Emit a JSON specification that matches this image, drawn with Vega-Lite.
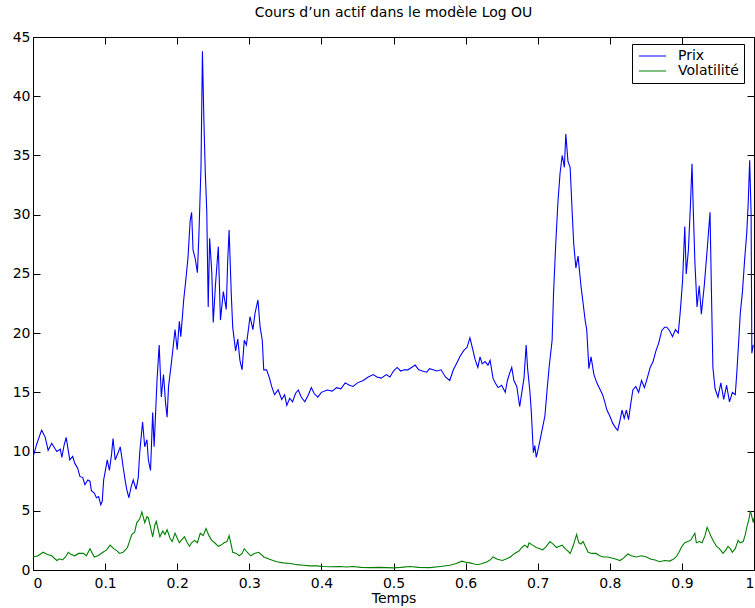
{
  "$schema": "https://vega.github.io/schema/vega-lite/v6.json",
  "width": 721,
  "height": 533,
  "autosize": {"type": "none"},
  "padding": {"left": 33, "top": 37, "right": 1, "bottom": 38},
  "background": "white",
  "title": {"text": "Cours d’un actif dans le modèle Log OU", "font": "DejaVu Sans", "fontSize": 14, "fontWeight": "normal", "color": "black", "anchor": "middle", "offset": 10},
  "datasets": {
    "prix": [
      {"t":0,"v":9.5},{"t":0.005,"v":10.6},{"t":0.009,"v":11.3},{"t":0.012,"v":11.8},{"t":0.017,"v":11.2},{"t":0.021,"v":10.1},{"t":0.026,"v":10.7},{"t":0.03,"v":10.3},{"t":0.033,"v":10.0},{"t":0.038,"v":10.2},{"t":0.04,"v":9.5},{"t":0.043,"v":10.5},{"t":0.046,"v":11.2},{"t":0.051,"v":9.3},{"t":0.055,"v":9.6},{"t":0.058,"v":9.0},{"t":0.062,"v":8.6},{"t":0.065,"v":7.9},{"t":0.069,"v":7.8},{"t":0.072,"v":7.2},{"t":0.076,"v":7.6},{"t":0.079,"v":7.5},{"t":0.081,"v":6.7},{"t":0.085,"v":6.5},{"t":0.088,"v":6.1},{"t":0.091,"v":6.2},{"t":0.094,"v":5.5},{"t":0.096,"v":5.8},{"t":0.098,"v":7.6},{"t":0.101,"v":8.6},{"t":0.103,"v":9.3},{"t":0.106,"v":8.4},{"t":0.109,"v":9.8},{"t":0.111,"v":11.1},{"t":0.114,"v":9.3},{"t":0.118,"v":9.9},{"t":0.121,"v":10.4},{"t":0.123,"v":9.6},{"t":0.125,"v":8.7},{"t":0.128,"v":7.5},{"t":0.13,"v":6.8},{"t":0.133,"v":6.1},{"t":0.136,"v":7.0},{"t":0.139,"v":7.6},{"t":0.143,"v":6.8},{"t":0.146,"v":7.8},{"t":0.148,"v":9.9},{"t":0.152,"v":12.5},{"t":0.155,"v":10.4},{"t":0.158,"v":11.0},{"t":0.16,"v":9.3},{"t":0.163,"v":8.4},{"t":0.166,"v":13.3},{"t":0.168,"v":10.4},{"t":0.172,"v":16.0},{"t":0.175,"v":19.0},{"t":0.178,"v":14.6},{"t":0.181,"v":16.5},{"t":0.184,"v":14.0},{"t":0.186,"v":12.9},{"t":0.188,"v":15.5},{"t":0.191,"v":17.0},{"t":0.194,"v":18.6},{"t":0.197,"v":20.3},{"t":0.2,"v":18.6},{"t":0.203,"v":21.0},{"t":0.205,"v":19.7},{"t":0.209,"v":22.8},{"t":0.212,"v":24.5},{"t":0.215,"v":26.4},{"t":0.218,"v":29.5},{"t":0.22,"v":30.2},{"t":0.222,"v":27.0},{"t":0.225,"v":26.3},{"t":0.228,"v":25.1},{"t":0.23,"v":28.1},{"t":0.233,"v":34.0},{"t":0.235,"v":43.8},{"t":0.237,"v":38.0},{"t":0.239,"v":33.5},{"t":0.241,"v":30.3},{"t":0.243,"v":22.2},{"t":0.245,"v":28.0},{"t":0.248,"v":25.1},{"t":0.25,"v":20.9},{"t":0.253,"v":24.0},{"t":0.257,"v":27.3},{"t":0.26,"v":21.1},{"t":0.264,"v":23.5},{"t":0.268,"v":22.0},{"t":0.27,"v":26.0},{"t":0.272,"v":28.7},{"t":0.275,"v":23.3},{"t":0.277,"v":20.5},{"t":0.281,"v":18.5},{"t":0.284,"v":19.5},{"t":0.287,"v":17.7},{"t":0.29,"v":16.9},{"t":0.293,"v":19.4},{"t":0.296,"v":19.0},{"t":0.301,"v":21.4},{"t":0.305,"v":20.3},{"t":0.308,"v":21.7},{"t":0.312,"v":22.8},{"t":0.315,"v":20.5},{"t":0.318,"v":19.4},{"t":0.32,"v":16.9},{"t":0.324,"v":16.9},{"t":0.328,"v":16.2},{"t":0.331,"v":15.5},{"t":0.335,"v":14.8},{"t":0.34,"v":15.2},{"t":0.345,"v":14.4},{"t":0.349,"v":14.8},{"t":0.352,"v":13.9},{"t":0.356,"v":14.5},{"t":0.36,"v":14.2},{"t":0.364,"v":14.9},{"t":0.368,"v":15.2},{"t":0.372,"v":14.6},{"t":0.377,"v":14.2},{"t":0.382,"v":14.8},{"t":0.386,"v":15.4},{"t":0.39,"v":14.9},{"t":0.395,"v":14.6},{"t":0.4,"v":15.0},{"t":0.408,"v":15.2},{"t":0.415,"v":15.1},{"t":0.421,"v":15.4},{"t":0.427,"v":15.3},{"t":0.433,"v":15.8},{"t":0.439,"v":15.6},{"t":0.444,"v":15.5},{"t":0.45,"v":15.8},{"t":0.458,"v":16.0},{"t":0.465,"v":16.3},{"t":0.472,"v":16.5},{"t":0.477,"v":16.3},{"t":0.483,"v":16.2},{"t":0.49,"v":16.5},{"t":0.495,"v":16.3},{"t":0.5,"v":16.8},{"t":0.505,"v":17.1},{"t":0.51,"v":16.8},{"t":0.515,"v":16.9},{"t":0.52,"v":16.9},{"t":0.525,"v":17.1},{"t":0.53,"v":17.3},{"t":0.535,"v":16.9},{"t":0.54,"v":16.8},{"t":0.546,"v":16.7},{"t":0.55,"v":17.0},{"t":0.555,"v":16.9},{"t":0.56,"v":16.8},{"t":0.566,"v":16.9},{"t":0.572,"v":16.3},{"t":0.578,"v":16.0},{"t":0.583,"v":16.9},{"t":0.588,"v":17.5},{"t":0.592,"v":18.0},{"t":0.597,"v":18.5},{"t":0.602,"v":18.8},{"t":0.606,"v":19.6},{"t":0.61,"v":18.6},{"t":0.613,"v":17.8},{"t":0.617,"v":17.1},{"t":0.62,"v":18.0},{"t":0.623,"v":17.4},{"t":0.627,"v":17.6},{"t":0.631,"v":17.3},{"t":0.634,"v":17.7},{"t":0.638,"v":16.2},{"t":0.641,"v":15.8},{"t":0.645,"v":15.4},{"t":0.65,"v":15.6},{"t":0.655,"v":15.0},{"t":0.658,"v":16.0},{"t":0.661,"v":16.6},{"t":0.664,"v":17.1},{"t":0.667,"v":16.0},{"t":0.671,"v":15.5},{"t":0.675,"v":13.8},{"t":0.678,"v":15.0},{"t":0.681,"v":16.2},{"t":0.684,"v":19.0},{"t":0.686,"v":17.0},{"t":0.689,"v":15.2},{"t":0.691,"v":13.5},{"t":0.694,"v":9.9},{"t":0.696,"v":10.5},{"t":0.698,"v":9.5},{"t":0.701,"v":10.3},{"t":0.704,"v":11.2},{"t":0.707,"v":12.1},{"t":0.71,"v":13.0},{"t":0.713,"v":15.2},{"t":0.716,"v":17.2},{"t":0.72,"v":19.4},{"t":0.722,"v":23.4},{"t":0.725,"v":27.5},{"t":0.728,"v":31.0},{"t":0.731,"v":33.5},{"t":0.734,"v":35.0},{"t":0.737,"v":34.0},{"t":0.739,"v":36.8},{"t":0.742,"v":34.5},{"t":0.745,"v":34.0},{"t":0.748,"v":30.0},{"t":0.75,"v":27.5},{"t":0.753,"v":25.5},{"t":0.756,"v":26.5},{"t":0.76,"v":24.0},{"t":0.763,"v":22.5},{"t":0.766,"v":21.0},{"t":0.768,"v":20.3},{"t":0.771,"v":17.0},{"t":0.774,"v":18.0},{"t":0.778,"v":16.5},{"t":0.782,"v":15.8},{"t":0.786,"v":15.3},{"t":0.79,"v":14.8},{"t":0.793,"v":14.2},{"t":0.796,"v":13.5},{"t":0.8,"v":13.0},{"t":0.804,"v":12.4},{"t":0.808,"v":12.0},{"t":0.811,"v":11.8},{"t":0.814,"v":12.6},{"t":0.817,"v":13.5},{"t":0.82,"v":12.8},{"t":0.823,"v":13.5},{"t":0.826,"v":12.7},{"t":0.829,"v":14.0},{"t":0.832,"v":15.2},{"t":0.836,"v":15.5},{"t":0.84,"v":15.0},{"t":0.844,"v":16.0},{"t":0.848,"v":15.4},{"t":0.852,"v":16.2},{"t":0.856,"v":17.1},{"t":0.86,"v":17.6},{"t":0.864,"v":18.5},{"t":0.868,"v":19.2},{"t":0.872,"v":20.2},{"t":0.876,"v":20.5},{"t":0.879,"v":20.5},{"t":0.883,"v":20.2},{"t":0.887,"v":19.7},{"t":0.891,"v":20.3},{"t":0.895,"v":20.0},{"t":0.898,"v":22.0},{"t":0.901,"v":24.5},{"t":0.904,"v":29.0},{"t":0.906,"v":25.0},{"t":0.909,"v":27.0},{"t":0.912,"v":31.0},{"t":0.914,"v":34.3},{"t":0.916,"v":30.0},{"t":0.918,"v":26.0},{"t":0.921,"v":22.2},{"t":0.924,"v":24.0},{"t":0.927,"v":21.6},{"t":0.931,"v":24.0},{"t":0.935,"v":27.0},{"t":0.939,"v":30.2},{"t":0.941,"v":23.4},{"t":0.943,"v":17.1},{"t":0.946,"v":15.3},{"t":0.95,"v":14.6},{"t":0.954,"v":15.8},{"t":0.958,"v":14.4},{"t":0.962,"v":15.6},{"t":0.966,"v":14.2},{"t":0.97,"v":15.0},{"t":0.974,"v":14.8},{"t":0.976,"v":16.5},{"t":0.979,"v":19.5},{"t":0.981,"v":21.7},{"t":0.984,"v":23.5},{"t":0.987,"v":26.2},{"t":0.99,"v":28.5},{"t":0.992,"v":31.0},{"t":0.994,"v":34.6},{"t":0.996,"v":30.0},{"t":0.997,"v":18.3},{"t":0.999,"v":19.0}
    ],
    "vol": [
      {"t":0,"v":1.1},{"t":0.007,"v":1.2},{"t":0.014,"v":1.5},{"t":0.02,"v":1.3},{"t":0.026,"v":1.2},{"t":0.033,"v":0.8},{"t":0.037,"v":0.95},{"t":0.041,"v":0.85},{"t":0.045,"v":1.1},{"t":0.049,"v":1.5},{"t":0.053,"v":1.3},{"t":0.058,"v":1.2},{"t":0.063,"v":1.4},{"t":0.07,"v":1.4},{"t":0.074,"v":1.2},{"t":0.079,"v":1.8},{"t":0.085,"v":1.1},{"t":0.09,"v":1.2},{"t":0.097,"v":1.5},{"t":0.102,"v":1.7},{"t":0.107,"v":2.1},{"t":0.112,"v":1.8},{"t":0.117,"v":1.6},{"t":0.12,"v":1.4},{"t":0.125,"v":1.5},{"t":0.131,"v":1.9},{"t":0.137,"v":3.0},{"t":0.141,"v":3.2},{"t":0.144,"v":4.0},{"t":0.148,"v":4.3},{"t":0.151,"v":4.9},{"t":0.155,"v":4.0},{"t":0.158,"v":4.5},{"t":0.16,"v":4.4},{"t":0.163,"v":3.6},{"t":0.166,"v":2.8},{"t":0.169,"v":3.8},{"t":0.171,"v":4.1},{"t":0.174,"v":3.3},{"t":0.176,"v":2.8},{"t":0.18,"v":3.3},{"t":0.183,"v":3.0},{"t":0.186,"v":3.4},{"t":0.19,"v":2.7},{"t":0.193,"v":2.4},{"t":0.197,"v":3.1},{"t":0.2,"v":2.7},{"t":0.203,"v":2.3},{"t":0.207,"v":2.6},{"t":0.21,"v":2.8},{"t":0.214,"v":2.3},{"t":0.217,"v":2.0},{"t":0.22,"v":2.3},{"t":0.224,"v":2.5},{"t":0.228,"v":2.3},{"t":0.232,"v":3.1},{"t":0.236,"v":2.9},{"t":0.24,"v":3.5},{"t":0.244,"v":2.9},{"t":0.248,"v":2.5},{"t":0.252,"v":2.3},{"t":0.257,"v":2.0},{"t":0.261,"v":2.1},{"t":0.265,"v":2.3},{"t":0.269,"v":2.4},{"t":0.272,"v":2.9},{"t":0.275,"v":2.1},{"t":0.277,"v":1.5},{"t":0.282,"v":1.4},{"t":0.286,"v":1.2},{"t":0.29,"v":1.4},{"t":0.293,"v":1.8},{"t":0.297,"v":1.5},{"t":0.302,"v":1.2},{"t":0.307,"v":1.4},{"t":0.313,"v":1.5},{"t":0.317,"v":1.3},{"t":0.32,"v":1.1},{"t":0.328,"v":0.9},{"t":0.338,"v":0.7},{"t":0.347,"v":0.6},{"t":0.357,"v":0.55},{"t":0.366,"v":0.45},{"t":0.375,"v":0.4},{"t":0.385,"v":0.35},{"t":0.394,"v":0.35},{"t":0.403,"v":0.3},{"t":0.412,"v":0.28},{"t":0.425,"v":0.3},{"t":0.435,"v":0.25},{"t":0.444,"v":0.3},{"t":0.455,"v":0.22},{"t":0.467,"v":0.2},{"t":0.48,"v":0.22},{"t":0.49,"v":0.2},{"t":0.5,"v":0.18},{"t":0.51,"v":0.22},{"t":0.523,"v":0.3},{"t":0.535,"v":0.22},{"t":0.55,"v":0.2},{"t":0.565,"v":0.3},{"t":0.578,"v":0.4},{"t":0.587,"v":0.55},{"t":0.595,"v":0.75},{"t":0.6,"v":0.65},{"t":0.606,"v":0.6},{"t":0.612,"v":0.5},{"t":0.616,"v":0.45},{"t":0.623,"v":0.55},{"t":0.63,"v":0.7},{"t":0.635,"v":0.9},{"t":0.638,"v":1.1},{"t":0.644,"v":0.9},{"t":0.651,"v":0.8},{"t":0.657,"v":0.95},{"t":0.662,"v":1.1},{"t":0.668,"v":1.4},{"t":0.674,"v":1.6},{"t":0.678,"v":1.9},{"t":0.682,"v":2.1},{"t":0.686,"v":1.9},{"t":0.688,"v":2.3},{"t":0.693,"v":2.1},{"t":0.698,"v":1.9},{"t":0.703,"v":1.8},{"t":0.707,"v":1.7},{"t":0.712,"v":2.0},{"t":0.717,"v":2.4},{"t":0.721,"v":2.2},{"t":0.726,"v":1.9},{"t":0.73,"v":2.0},{"t":0.734,"v":2.1},{"t":0.738,"v":1.8},{"t":0.742,"v":1.6},{"t":0.745,"v":1.4},{"t":0.749,"v":2.0},{"t":0.752,"v":2.6},{"t":0.754,"v":3.0},{"t":0.757,"v":2.3},{"t":0.76,"v":2.2},{"t":0.763,"v":2.4},{"t":0.766,"v":2.0},{"t":0.77,"v":1.5},{"t":0.775,"v":1.4},{"t":0.781,"v":1.4},{"t":0.786,"v":1.2},{"t":0.791,"v":1.1},{"t":0.797,"v":1.1},{"t":0.804,"v":1.0},{"t":0.809,"v":0.9},{"t":0.814,"v":0.8},{"t":0.819,"v":1.0},{"t":0.825,"v":1.35},{"t":0.83,"v":1.2},{"t":0.837,"v":1.1},{"t":0.844,"v":1.2},{"t":0.851,"v":1.1},{"t":0.857,"v":0.9},{"t":0.863,"v":0.85},{"t":0.869,"v":0.7},{"t":0.876,"v":0.8},{"t":0.883,"v":0.75},{"t":0.888,"v":0.9},{"t":0.892,"v":1.1},{"t":0.896,"v":1.5},{"t":0.9,"v":2.0},{"t":0.904,"v":2.3},{"t":0.908,"v":2.4},{"t":0.912,"v":2.5},{"t":0.915,"v":2.8},{"t":0.918,"v":3.1},{"t":0.92,"v":2.3},{"t":0.924,"v":2.4},{"t":0.928,"v":2.3},{"t":0.932,"v":2.9},{"t":0.935,"v":3.6},{"t":0.938,"v":3.2},{"t":0.94,"v":2.9},{"t":0.944,"v":2.4},{"t":0.948,"v":2.0},{"t":0.952,"v":1.8},{"t":0.957,"v":1.4},{"t":0.961,"v":1.7},{"t":0.964,"v":2.0},{"t":0.967,"v":1.8},{"t":0.97,"v":1.5},{"t":0.974,"v":1.8},{"t":0.978,"v":2.5},{"t":0.981,"v":2.3},{"t":0.985,"v":2.4},{"t":0.988,"v":3.0},{"t":0.99,"v":3.6},{"t":0.993,"v":4.3},{"t":0.995,"v":5.0},{"t":0.997,"v":4.5},{"t":0.999,"v":4.0},{"t":1.0,"v":4.4}
    ]
  },
  "layer": [
    {
      "data": {"name": "prix"},
      "mark": {"type": "line", "strokeWidth": 1.1, "clip": true},
      "encoding": {
        "x": {"field": "t", "type": "quantitative", "scale": {"domain": [0, 1], "nice": false},
              "axis": {"orient": "bottom", "title": "Temps", "values": [0,0.1,0.2,0.3,0.4,0.5,0.6,0.7,0.8,0.9,1], "format": "~g", "labelPadding": 13, "titlePadding": 1}},
        "y": {"field": "v", "type": "quantitative", "scale": {"domain": [0, 45], "nice": false},
              "axis": {"orient": "left", "title": null, "values": [0,5,10,15,20,25,30,35,40,45], "labelPadding": 10}},
        "color": {"datum": "Prix", "type": "nominal",
                  "scale": {"domain": ["Prix", "Volatilité"], "range": ["#0000ff", "#008000"]},
                  "legend": {"title": null, "orient": "none", "legendX": 599, "legendY": 7, "strokeColor": "black", "fillColor": "white", "padding": 5, "symbolType": "M-1.5,0H6.5", "symbolSize": 46, "symbolStrokeWidth": 1, "labelOffset": 27, "labelLimit": 300, "labelFont": "DejaVu Sans", "labelFontSize": 14, "labelColor": "black", "rowPadding": 1}}
      }
    },
    {
      "data": {"name": "vol"},
      "mark": {"type": "line", "strokeWidth": 1.1, "clip": true},
      "encoding": {
        "x": {"field": "t", "type": "quantitative",
              "axis": {"orient": "top", "title": null, "labels": false, "values": [0,0.1,0.2,0.3,0.4,0.5,0.6,0.7,0.8,0.9,1]}},
        "y": {"field": "v", "type": "quantitative",
              "axis": {"orient": "right", "title": null, "labels": false, "values": [0,5,10,15,20,25,30,35,40,45]}},
        "color": {"datum": "Volatilité", "type": "nominal"}
      }
    }
  ],
  "resolve": {"axis": {"x": "independent", "y": "independent"}},
  "config": {
    "view": {"stroke": "black", "strokeWidth": 1},
    "axis": {"domain": false, "grid": false, "ticks": true, "tickSize": -7, "tickColor": "black", "labelColor": "black", "labelFont": "DejaVu Sans", "labelFontSize": 14, "titleFont": "DejaVu Sans", "titleFontSize": 14, "titleFontWeight": "normal", "titleColor": "black"}
  }
}
